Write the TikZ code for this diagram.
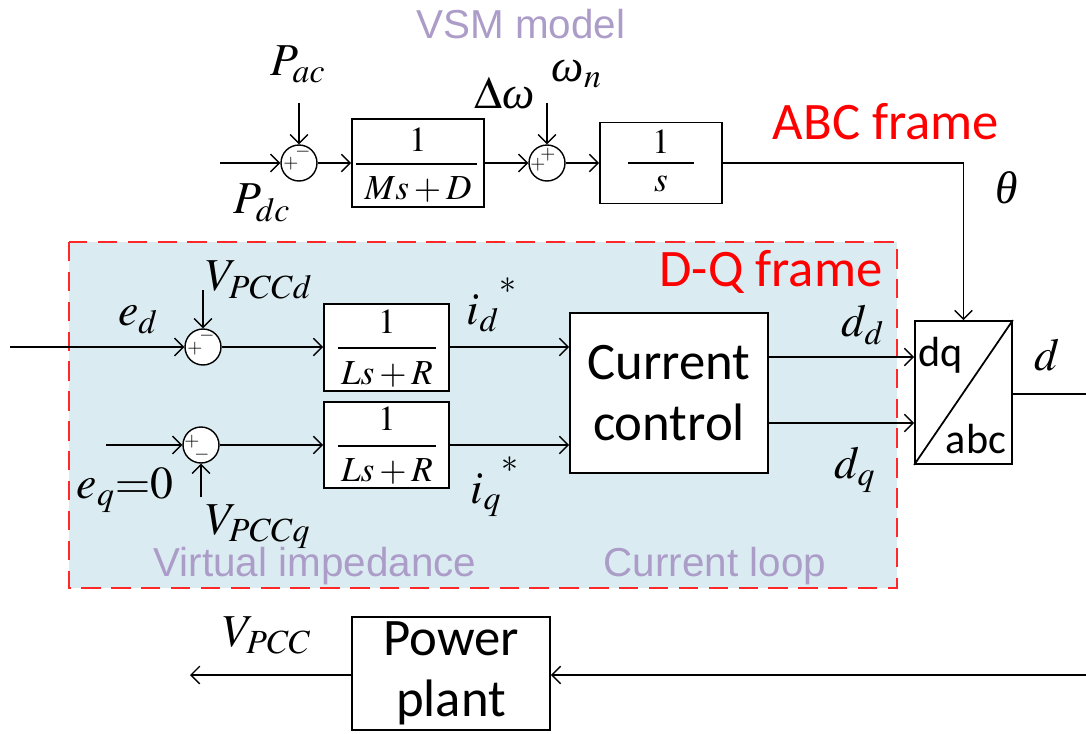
\documentclass[tikz,border=0pt]{standalone}
\usepackage{mathptmx}
\usepackage{fontspec}
\setmainfont{Liberation Serif}
\newfontfamily\calfont{Carlito}
\newfontfamily\arialf{Liberation Sans}
\usetikzlibrary{arrows.meta,calc}
\definecolor{dashred}{RGB}{255,40,40}
\definecolor{dqfill}{RGB}{218,236,242}
\definecolor{notecol}{RGB}{172,156,200}
\newcommand{\hstar}{{}^{\raisebox{0.3em}{$\scriptstyle *$}}}
\newcommand{\itgr}[1]{\mbox{\itshape #1}}
\begin{document}
\begin{tikzpicture}[x=0.02cm,y=-0.02cm,
  line/.style={line width=0.8pt},
  arr/.style={line width=0.8pt,-{Straight Barb[length=5pt,width=10pt]}},
  blk/.style={draw,line width=1pt,fill=white,inner sep=0pt},
  sumn/.style={draw,circle,line width=0.8pt,minimum size=0.72cm,inner sep=0pt,fill=white},
  sgn/.style={font=\fontsize{11}{11}\selectfont,inner sep=0pt},
  lbl/.style={font=\fontsize{26}{30}\selectfont,inner sep=0pt},
  frac/.style={font=\fontsize{20}{24}\selectfont,inner sep=0pt},
  note/.style={text=notecol,font=\arialf\fontsize{23}{26}\selectfont,inner sep=0pt},
  framelbl/.style={text=red,font=\calfont\fontsize{30}{32}\selectfont,inner sep=0pt},
  bigtxt/.style={font=\calfont\fontsize{30}{35}\selectfont,align=center},
  smalltxt/.style={font=\calfont\fontsize{24}{26}\selectfont,inner sep=0pt}]
\useasboundingbox (0,0) rectangle (1086,734);
% D-Q region
\draw[draw=dashred, fill=dqfill, line width=1.6pt, dash pattern=on 11pt off 6pt] (69,242) rectangle (897,588);
% nodes top row
\node[sumn] (s1) at (299,163) {};
\node[blk,minimum width=2.64cm,minimum height=1.76cm] (b1) at (418,163) {};
\node[sumn] (s2) at (547,163) {};
\node[blk,minimum width=2.44cm,minimum height=1.62cm] (b2) at (661,163) {};
% rows
\node[sumn] (s3) at (203,347) {};
\node[sumn] (s4) at (201,445) {};
\node[blk,minimum width=2.5cm,minimum height=1.74cm] (bL1) at (386.5,347.5) {};
\node[blk,minimum width=2.5cm,minimum height=1.72cm] (bL2) at (386.5,445) {};
\node[blk,minimum width=3.96cm,minimum height=3.2cm,bigtxt] (cc) at (669,393) {Current\\control};
\node[blk,minimum width=1.94cm,minimum height=2.86cm] (dq) at (963.5,392.5) {};
\node[blk,minimum width=3.96cm,minimum height=2.26cm,bigtxt] (pp) at (451,673.5) {Power\\plant};
% fractions
\draw[line] (356,164) -- (477,164);
\node[frac] at (418,140) {$1$};
\node[frac] at (418,190) {$Ms+D$};
\draw[line] (628,163) -- (694,163);
\node[frac] at (661,142) {$1$};
\node[frac] at (661,184) {$s$};
\draw[line] (338,348) -- (436,348);
\node[frac] at (387,322) {$1$};
\node[frac] at (387,375) {$Ls+R$};
\draw[line] (338,446) -- (436,446);
\node[frac] at (387,419) {$1$};
\node[frac] at (387,472) {$Ls+R$};
% sum signs
\node[sgn] at ($(s1.center)+(-8,1)$) {$+$};
\node[sgn] at ($(s1.center)+(4,-11)$) {$-$};
\node[sgn] at ($(s2.center)+(-9,2)$) {$+$};
\node[sgn] at ($(s2.center)+(1,-8)$) {$+$};
\node[sgn] at ($(s3.center)+(-8,2)$) {$+$};
\node[sgn] at ($(s3.center)+(4,-11)$) {$-$};
\node[sgn] at ($(s4.center)+(-9,-3)$) {$+$};
\node[sgn] at ($(s4.center)+(1,10)$) {$-$};
% dq block
\draw[line width=1pt] (dq.south west) -- (dq.north east);
\node[smalltxt] at (941,355) {dq};
\node[smalltxt] at (976,439) {abc};
% connectors
\coordinate (in1) at (220,163);
\coordinate (pacs) at (299,103);
\coordinate (wns) at (547,103);
\draw[arr] (in1) -- (s1.west);
\draw[arr] (pacs) -- (s1.north);
\draw[arr] (s1.east) -- (b1.west);
\draw[arr] (b1.east) -- (s2.west);
\draw[arr] (wns) -- (s2.north);
\draw[arr] (s2.east) -- (b2.west);
\draw[arr] (b2.east) -| (dq.north);
\coordinate (ed) at (10,347);
\coordinate (vd) at (203,290);
\coordinate (eq) at (106,445);
\coordinate (vq) at (201,497);
\draw[arr] (ed) -- (s3.west);
\draw[arr] (vd) -- (s3.north);
\draw[arr] (s3.east) -- (bL1.west |- s3.east);
\draw[arr] (eq) -- (s4.west);
\draw[arr] (vq) -- (s4.south);
\draw[arr] (s4.east) -- (bL2.west);
\draw[arr] (bL1.east |- s3.east) -- (cc.west |- s3.east);
\draw[arr] (bL2.east) -- (cc.west |- bL2.east);
\draw[arr] (cc.east |- 0,357) -- (dq.west |- 0,357);
\draw[arr] (cc.east |- 0,423) -- (dq.west |- 0,423);
\coordinate (dout) at (1086,394);
\draw[line] (dq.east |- dout) -- (dout);
\coordinate (ppin) at (1086,675);
\coordinate (vpcc) at (190,675);
\draw[arr] (ppin) -- (pp.east |- ppin);
\draw[arr] (pp.west |- vpcc) -- (vpcc);
% labels
\node[note] at (521,24) {VSM model};
\node[lbl] at (298,64) {$P_{ac}$};
\node[lbl] at (262,203) {$P_{dc}$};
\node[lbl] at (505,93) {$\Delta\itgr{ω}$};
\node[lbl] at (577,74) {$\itgr{ω}_n$};
\node[framelbl] at (886,122) {ABC frame};
\node[lbl] at (1007,188) {$\itgr{θ}$};
\node[framelbl] at (771,272) {D-Q frame};
\node[lbl] at (138,320) {$e_d$};
\node[lbl] at (259,280) {$V_{PCCd}$};
\node[lbl] at (492,305) {$i_d\hstar$};
\node[lbl] at (495,487) {$i_q\hstar$};
\node[lbl] at (863,325) {$d_d$};
\node[lbl] at (855,470) {$d_q$};
\node[lbl] at (1047,355) {$d$};
\node[lbl] at (125,490) {$e_q{=}0$};
\node[lbl] at (258,527) {$V_{PCCq}$};
\node[note] at (315,566) {Virtual impedance};
\node[note] at (715,566) {Current loop};
\node[lbl] at (267,635) {$V_{PCC}$};
\end{tikzpicture}
\end{document}
